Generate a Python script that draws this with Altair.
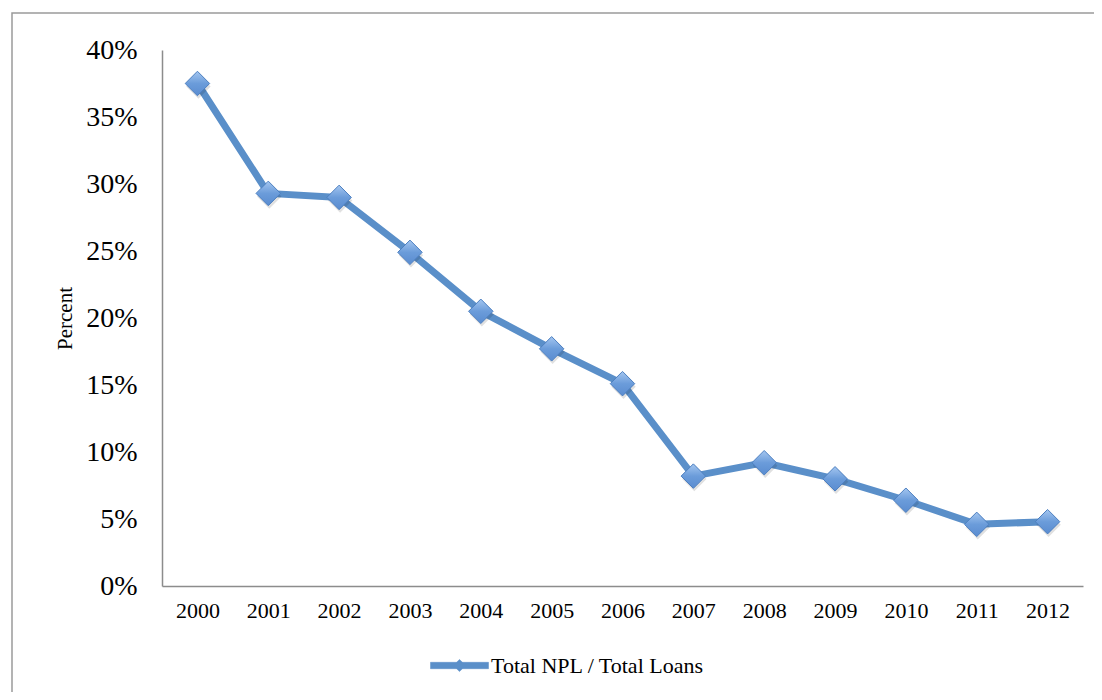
import altair as alt
import pandas as pd

years = ["2000", "2001", "2002", "2003", "2004", "2005", "2006",
         "2007", "2008", "2009", "2010", "2011", "2012"]
npl = [0.375, 0.293, 0.290, 0.249, 0.205, 0.177, 0.151,
       0.082, 0.092, 0.080, 0.064, 0.046, 0.048]
series_name = "Total NPL / Total Loans"
y_ticks = [0, 0.05, 0.10, 0.15, 0.20, 0.25, 0.30, 0.35, 0.40]

df = pd.DataFrame({"Year": years, "NPL": npl, "Series": [series_name] * len(years)})

LINE = "#5A8FC9"
SERIF = "Liberation Serif"

x_enc = alt.X("Year:O", sort=years,
              axis=alt.Axis(title=None, labelAngle=0, labelFontSize=22,
                            labelPadding=14, labelFont=SERIF))
y_enc = alt.Y("NPL:Q", scale=alt.Scale(domain=[0, 0.4]),
              axis=alt.Axis(title="Percent", values=y_ticks, format=".0%",
                            labelFontSize=28, labelFont=SERIF, labelPadding=25,
                            titleFont=SERIF, titleFontSize=21, titleFontWeight="normal",
                            titlePadding=10))

frame = alt.Chart(pd.DataFrame({"a": [0]})).mark_rect(
    fill=None, stroke="#9A9A9A", strokeWidth=1.5
).encode(x=alt.value(-150), x2=alt.value(1000), y=alt.value(-37), y2=alt.value(700))

legend_path = ("M-1,-0.11L1,-0.11L1,0.11L-1,0.11Z "
               "M0,-0.21L0.21,0L0,0.21L-0.21,0Z")

line = alt.Chart(df).mark_line(strokeWidth=7, strokeCap="round", strokeJoin="round").encode(
    x=x_enc, y=y_enc,
    color=alt.Color("Series:N", scale=alt.Scale(range=[LINE]),
                    legend=alt.Legend(title=None, orient="none", legendX=268, legendY=586,
                                      symbolType=legend_path, symbolSize=3364,
                                      symbolFillColor=LINE, symbolStrokeColor=LINE,
                                      symbolStrokeWidth=0.5, labelLimit=0,
                                      labelFont=SERIF, labelFontSize=22, labelOffset=2,
                                      labelColor="black"))
)

shadow = alt.Chart(df).mark_point(shape="diamond", filled=True, size=600,
                                   color="#000000", opacity=0.12).encode(
    x=x_enc, y=y_enc, xOffset=alt.value(1), yOffset=alt.value(3))

grad = alt.LinearGradient(gradient="linear", x1=0, y1=0, x2=0, y2=1,
                          stops=[alt.GradientStop(color="#A4C6F0", offset=0),
                                 alt.GradientStop(color="#6B9CDA", offset=0.5),
                                 alt.GradientStop(color="#5A8CD0", offset=1)])

points = alt.Chart(df).mark_point(shape="diamond", filled=True, size=600,
                                   fill=grad, stroke="#4C7FC0", strokeWidth=1,
                                   opacity=1).encode(x=x_enc, y=y_enc)

chart = alt.layer(frame, line, shadow, points).properties(
    width=921, height=536,
    autosize=alt.AutoSizeParams(type="none"),
    padding={"left": 154, "top": 42, "right": 11, "bottom": 106},
).configure_view(stroke=None).configure_axis(
    grid=False, ticks=False, domainColor="#8C8C8C", domainWidth=1.5,
    labelColor="black", titleColor="black"
).configure_scale(pointPadding=0.5)

chart.save("out.html", embed_options={"renderer": "svg", "actions": False})
